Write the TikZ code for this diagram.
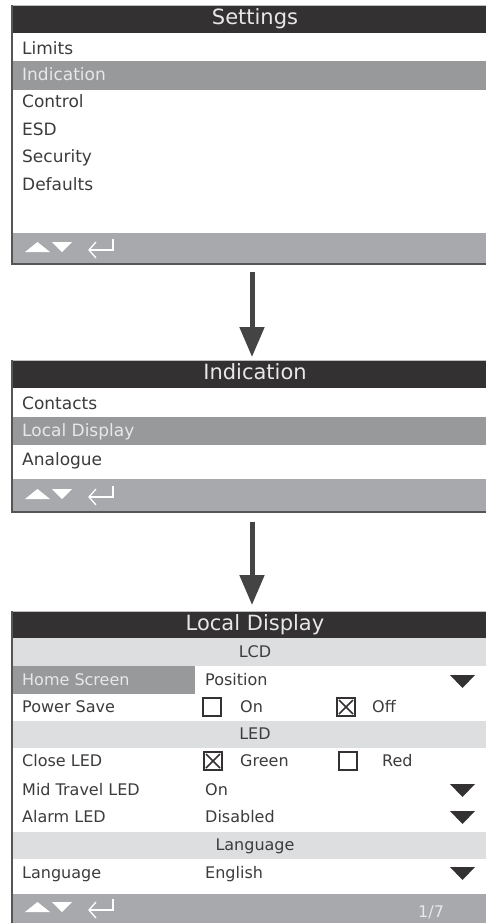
\documentclass[tikz,border=0pt]{standalone}
\usepackage{fontspec}
\setmainfont{DejaVu Sans}
\usetikzlibrary{arrows.meta}
\definecolor{bardark}{HTML}{333132}
\definecolor{higrey}{HTML}{98999B}
\definecolor{botgrey}{HTML}{A7A9AC}
\definecolor{bandlight}{HTML}{DDDEDF}
\definecolor{txt}{HTML}{3C3C3C}
\definecolor{txtlight}{HTML}{E8E8E8}
\definecolor{arrowc}{HTML}{444444}
\definecolor{borderc}{HTML}{555555}
\tikzset{
  base/.style={inner sep=0pt, text height=0.73em, text depth=0pt, yshift=-1.5pt},
  lbl/.style={base, anchor=west, text=txt, font=\fontsize{17}{17}\selectfont},
  lblhi/.style={lbl, text=txtlight},
  sml/.style={base, anchor=west, text=txt, font=\fontsize{16}{16}\selectfont},
  smlhi/.style={sml, text=txtlight},
  hdr/.style={base, anchor=center, text=txt, font=\fontsize{16}{16}\selectfont},
  ttl/.style={base, anchor=center, text=txtlight, font=\fontsize{21}{21}\selectfont},
  pagenum/.style={base, anchor=west, text=txtlight, font=\fontsize{16}{16}\selectfont},
  leftborder/.style={draw=borderc, line width=2pt},
  bottomline/.style={draw=borderc, line width=1.2pt},
  topline/.style={draw=black!25, line width=1pt},
  bigarrow/.style={draw=arrowc, line width=5pt, -{Triangle[width=24pt,length=30pt]}},
  navicon/.style={fill=white},
  navret/.style={draw=white, line width=1.3pt},
  ddtri/.style={fill=bardark},
  cbox/.style={draw=bardark, line width=2pt, fill=white},
  cx/.style={draw=bardark, line width=1.6pt},
}
\newcommand\navbar[1]{%
  \fill[navicon] (25,#1+5) -- (50,#1+5) -- (37.5,#1-5) -- cycle;
  \fill[navicon] (52,#1-5) -- (72,#1-5) -- (62,#1+5) -- cycle;
  \draw[navret] (113,#1-8) -- (113,#1+3) -- (89,#1+3);
  \draw[navret] (96,#1-5) -- (89,#1+3) -- (96,#1+11);
}
\newcommand\ddarrow[1]{%
  \fill[ddtri] (450,#1-6) -- (475,#1-6) -- (462.5,#1+7) -- cycle;
}
\newcommand\checkbox[3]{% x, y, checked(1/0)
  \draw[cbox] (#1,#2-9) rectangle (#1+18,#2+9);
  \ifnum#3=1
    \draw[cx] (#1+2,#2-7) -- (#1+16,#2+7);
    \draw[cx] (#1+16,#2-7) -- (#1+2,#2+7);
  \fi
}
\begin{document}
\begin{tikzpicture}[x=1pt,y=-1pt]
\useasboundingbox[fill=white] (0,0) rectangle (486,923);

% ---------------- Screen 1: Settings
\fill[white] (12,33) rectangle (486,233);
\fill[bardark] (12,6) rectangle (486,33);
\draw[topline] (12,5.5) -- (486,5.5);
\fill[higrey] (12,61) rectangle (486,90);
\fill[botgrey] (12,233) rectangle (486,264);
\draw[leftborder] (12,5) -- (12,265);
\draw[bottomline] (12,264) -- (486,264);
\node[ttl] (s1title) at (255,19.5) {Settings};
\node[lbl] (s1a) at (22,49) {Limits};
\node[lblhi] (s1b) at (22,75.5) {Indication};
\node[lbl] (s1c) at (22,102) {Control};
\node[lbl] (s1d) at (22,130) {ESD};
\node[lbl] (s1e) at (22,157) {Security};
\node[lbl] (s1f) at (22,185) {Defaults};
\navbar{247}
\coordinate (s1bottom) at (252,272);

% ---------------- Screen 2: Indication
\fill[bardark] (12,361) rectangle (486,388);
\draw[topline] (12,360.5) -- (486,360.5);
\fill[higrey] (12,417) rectangle (486,445);
\fill[botgrey] (12,479) rectangle (486,512);
\draw[leftborder] (12,360) -- (12,513);
\draw[bottomline] (12,512) -- (486,512);
\node[ttl] (s2title) at (255,374.5) {Indication};
\node[lbl] (s2a) at (22,404) {Contacts};
\node[lblhi] (s2b) at (22,431.5) {Local Display};
\node[lbl] (s2c) at (22,460) {Analogue};
\navbar{494}
\coordinate (s2top) at (252,357);
\coordinate (s2bottom) at (252,522);

% ---------------- Screen 3: Local Display
\fill[bardark] (12,612) rectangle (486,638);
\draw[topline] (12,611.5) -- (486,611.5);
\fill[bandlight] (12,638) rectangle (486,666);
\fill[higrey] (12,666) rectangle (195,694);
\fill[bandlight] (12,721) rectangle (486,748);
\fill[bandlight] (12,832) rectangle (486,859);
\fill[botgrey] (12,894) rectangle (486,923);
\draw[leftborder] (12,611) -- (12,923);
\node[ttl] (s3title) at (255,625) {Local Display};
\node[hdr] (h1) at (255,652) {LCD};
\node[smlhi] (r1) at (22,680) {Home Screen};
\node[sml] (v1) at (205,680) {Position};
\ddarrow{681}
\node[sml] (r2) at (22,707) {Power Save};
\checkbox{203}{707}{0}
\node[sml] (v2a) at (240,707) {On};
\checkbox{337}{707}{1}
\node[sml] (v2b) at (372,707) {Off};
\node[hdr] (h2) at (255,734.5) {LED};
\node[sml] (r3) at (22,761) {Close LED};
\checkbox{204}{761}{1}
\node[sml] (v3a) at (240,761) {Green};
\checkbox{339}{761}{0}
\node[sml] (v3b) at (382,761) {Red};
\node[sml] (r4) at (22,790) {Mid Travel LED};
\node[sml] (v4) at (205,790) {On};
\ddarrow{790}
\node[sml] (r5) at (22,817) {Alarm LED};
\node[sml] (v5) at (205,817) {Disabled};
\ddarrow{817}
\node[hdr] (h3) at (255,845.5) {Language};
\node[sml] (r6) at (22,873) {Language};
\node[sml] (v6) at (205,873) {English};
\ddarrow{873}
\navbar{907}
\node[pagenum] (pg) at (418,912) {1/7};
\coordinate (s3top) at (252,605);

% ---------------- Connectors
\draw[bigarrow] (s1bottom) -- (s2top);
\draw[bigarrow] (s2bottom) -- (s3top);
\end{tikzpicture}
\end{document}
